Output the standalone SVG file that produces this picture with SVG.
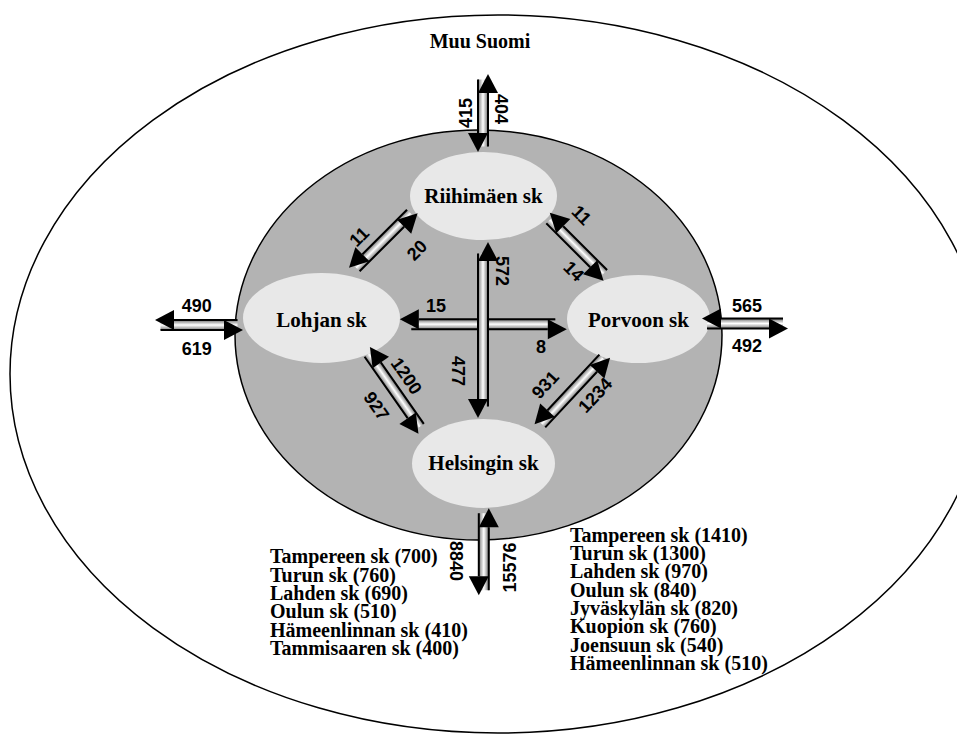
<svg xmlns="http://www.w3.org/2000/svg" width="957" height="736" viewBox="0 0 957 736">
<style>
.node{fill:#e8e8e8;stroke:none}
.nt{font-family:"Liberation Serif","Times New Roman",serif;font-weight:bold;font-size:21px;fill:#000;text-anchor:middle}
.lst{font-family:"Liberation Serif","Times New Roman",serif;font-weight:bold;font-size:20px;fill:#000}
.num{font-family:"Liberation Sans",Arial,sans-serif;font-weight:bold;font-size:18px;fill:#000;text-anchor:middle}
.ln{stroke:#000;stroke-width:2;fill:none}
.hd{fill:#000;stroke:none}
.band{fill:url(#shaft);stroke:none}
</style>
<defs>
<linearGradient id="shaft" x1="0" y1="0" x2="0" y2="1">
<stop offset="0" stop-color="#707070"/>
<stop offset="0.5" stop-color="#ffffff"/>
<stop offset="1" stop-color="#7a7a7a"/>
</linearGradient>
</defs>
<rect x="0" y="0" width="957" height="736" fill="#ffffff"/>
<g id="muu-suomi">
<ellipse cx="498" cy="374" rx="488" ry="359" fill="#ffffff" stroke="#000" stroke-width="1.5"/>
<text class="nt" x="480" y="48" style="font-size:20px">Muu Suomi</text>
</g>
<g id="region">
<ellipse cx="478.5" cy="335" rx="243.5" ry="205" fill="#b3b3b3" stroke="#000" stroke-width="1.5"/>
</g>
<g id="riihimaki"><ellipse class="node" cx="483.5" cy="196" rx="73.5" ry="44"/><text class="nt" x="483.5" y="203">Riihimäen sk</text></g>
<g id="lohja"><ellipse class="node" cx="321.5" cy="318" rx="78.5" ry="45"/><text class="nt" x="321.5" y="327">Lohjan sk</text></g>
<g id="porvoo"><ellipse class="node" cx="638.5" cy="319" rx="71.5" ry="44"/><text class="nt" x="638.5" y="327">Porvoon sk</text></g>
<g id="helsinki"><ellipse class="node" cx="483.5" cy="463.5" rx="71.5" ry="44.5"/><text class="nt" x="483.5" y="470">Helsingin sk</text></g>
<g id="connectors">
<g id="c-top" transform="translate(483,113) rotate(90)">
<rect class="band" x="-33.5" y="-5" width="67" height="10"/>
<path class="ln" d="M-33.5 5H20M33.5 -5H-20"/>
<polygon class="hd" points="20,-5 20,15 39,5"/><polygon class="hd" points="-20,-15 -20,5 -39,-5"/>
</g>
<g id="c-bottom" transform="translate(483.8,551.7) rotate(90)">
<rect class="band" x="-38.5" y="-5" width="77" height="10"/>
<path class="ln" d="M-38.5 5H24.5M38.5 -5H-24.5"/>
<polygon class="hd" points="24.5,-5 24.5,15 43.5,5"/><polygon class="hd" points="-24.5,-15 -24.5,5 -43.5,-5"/>
</g>
<g id="c-left" transform="translate(199,325)">
<rect class="band" x="-38.5" y="-5" width="77" height="10"/>
<path class="ln" d="M-38.5 5H25M38.5 -5H-25"/>
<polygon class="hd" points="25,-5 25,15 44,5"/><polygon class="hd" points="-25,-15 -25,5 -44,-5"/>
</g>
<g id="c-right" transform="translate(745,323.5)">
<rect class="band" x="-38" y="-5" width="76" height="10"/>
<path class="ln" d="M-38 5H24M38 -5H-24"/>
<polygon class="hd" points="24,-5 24,15 43,5"/><polygon class="hd" points="-24,-15 -24,5 -43,-5"/>
</g>
<g id="c-center-h" transform="translate(483.3,324.2)">
<rect class="band" x="-72" y="-5" width="144" height="10"/>
<path class="ln" d="M-72 5H64.5M72 -5H-64.5"/>
<polygon class="hd" points="64.5,-5 64.5,15 83.5,5"/><polygon class="hd" points="-64.5,-15 -64.5,5 -83.5,-5"/>
</g>
<g id="c-center-v" transform="translate(483,329.9) rotate(90)">
<rect class="band" x="-76.5" y="-5" width="153" height="10"/>
<path class="ln" d="M-76.5 5H69M76.5 -5H-69"/>
<polygon class="hd" points="69,-5 69,15 88,5"/><polygon class="hd" points="-69,-15 -69,5 -88,-5"/>
</g>
<g id="c-ul" transform="translate(383.3,240.5) rotate(-45)">
<rect class="band" x="-38.5" y="-5" width="77" height="10"/>
<path class="ln" d="M-38.5 5H24.5M38.5 -5H-24.5"/>
<polygon class="hd" points="24.5,-5 24.5,15 43.5,5"/><polygon class="hd" points="-24.5,-15 -24.5,5 -43.5,-5"/>
</g>
<g id="c-ur" transform="translate(576.7,246.7) rotate(45)">
<rect class="band" x="-38" y="-5" width="76" height="10"/>
<path class="ln" d="M-38 5H24M38 -5H-24"/>
<polygon class="hd" points="24,-5 24,15 43,5"/><polygon class="hd" points="-24,-15 -24,5 -43,-5"/>
</g>
<g id="c-ll" transform="translate(394.2,390.3) rotate(55)">
<rect class="band" x="-44.5" y="-5" width="89" height="10"/>
<path class="ln" d="M-44.5 5H30.5M44.5 -5H-30.5"/>
<polygon class="hd" points="30.5,-5 30.5,15 49.5,5"/><polygon class="hd" points="-30.5,-15 -30.5,5 -49.5,-5"/>
</g>
<g id="c-lr" transform="translate(572.3,391) rotate(-47)">
<rect class="band" x="-45" y="-5" width="90" height="10"/>
<path class="ln" d="M-45 5H31M45 -5H-31"/>
<polygon class="hd" points="31,-5 31,15 50,5"/><polygon class="hd" points="-31,-15 -31,5 -50,-5"/>
</g>
</g>
<g id="flow-labels">
<text class="num" transform="translate(465,113) rotate(-90)" y="6.5">415</text>
<text class="num" transform="translate(501.5,109) rotate(90)" y="6.5">404</text>
<text class="num" x="196.7" y="311.7">490</text>
<text class="num" x="196.7" y="355">619</text>
<text class="num" x="747" y="311.7">565</text>
<text class="num" x="747" y="351.7">492</text>
<text class="num" x="436" y="311.7">15</text>
<text class="num" x="541" y="353.3">8</text>
<text class="num" transform="translate(502.5,271) rotate(90)" y="6.5">572</text>
<text class="num" transform="translate(458,371) rotate(90)" y="6.5">477</text>
<text class="num" transform="translate(456,561) rotate(90)" y="6.5">8840</text>
<text class="num" transform="translate(509,567.5) rotate(-90)" y="6.5">15576</text>
<text class="num" transform="translate(359,236.5) rotate(-45)" y="6.5">11</text>
<text class="num" transform="translate(416.7,250) rotate(-45)" y="6.5">20</text>
<text class="num" transform="translate(581.7,215) rotate(45)" y="6.5">11</text>
<text class="num" transform="translate(574,271) rotate(45)" y="6.5">14</text>
<text class="num" transform="translate(406.7,375.8) rotate(55)" y="6.5">1200</text>
<text class="num" transform="translate(376.7,405.8) rotate(55)" y="6.5">927</text>
<text class="num" transform="translate(545,384.5) rotate(-47)" y="6.5">931</text>
<text class="num" transform="translate(595,395) rotate(-47)" y="6.5">1234</text>
</g>
<g id="list-left">
<text class="lst" x="270" y="563.3">Tampereen sk (700)</text>
<text class="lst" x="270" y="581.6">Turun sk (760)</text>
<text class="lst" x="270" y="599.9">Lahden sk (690)</text>
<text class="lst" x="270" y="618.2">Oulun sk (510)</text>
<text class="lst" x="270" y="636.5">Hämeenlinnan sk (410)</text>
<text class="lst" x="270" y="654.8">Tammisaaren sk (400)</text>
</g>
<g id="list-right">
<text class="lst" x="570" y="541.7">Tampereen sk (1410)</text>
<text class="lst" x="570" y="560">Turun sk (1300)</text>
<text class="lst" x="570" y="578.3">Lahden sk (970)</text>
<text class="lst" x="570" y="596.6">Oulun sk (840)</text>
<text class="lst" x="570" y="614.9">Jyväskylän sk (820)</text>
<text class="lst" x="570" y="633.2">Kuopion sk (760)</text>
<text class="lst" x="570" y="651.5">Joensuun sk (540)</text>
<text class="lst" x="570" y="669.8">Hämeenlinnan sk (510)</text>
</g>
</svg>
